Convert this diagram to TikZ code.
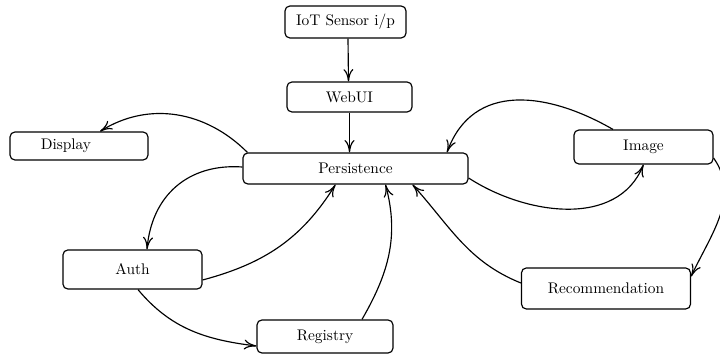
\documentclass[tikz,border=0pt]{standalone}
\usetikzlibrary{arrows.meta}
\begin{document}
\begin{tikzpicture}[
  x=0.65pt, y=0.65pt,
  box/.style={draw, rounded corners=3.2pt, line width=0.75pt, inner sep=0pt},
  link/.style={line width=0.75pt, -{To[length=8pt,width=6.5pt]}},
]
\useasboundingbox (0,0) rectangle (720,356);

% modules
\node[box, minimum width=78.7pt, minimum height=20.8pt]  (S)   at (345.5,334)   {IoT Sensor i/p};
\node[box, minimum width=81.3pt, minimum height=19.5pt]  (W)   at (349.5,259)   {WebUI};
\node[box, minimum width=146.3pt, minimum height=20.2pt] (P)   at (355.5,187.5) {Persistence};
\node[box, minimum width=89.7pt, minimum height=18.2pt]  (D)   at (79,210)      {Display\hspace*{17pt}};
\node[box, minimum width=90.4pt, minimum height=22.1pt]  (Im)  at (643.5,209)   {Image};
\node[box, minimum width=90.4pt, minimum height=25.4pt]  (A)   at (132.5,86.5)  {Auth};
\node[box, minimum width=88.4pt, minimum height=21.5pt]  (R)   at (325,19.5)    {Registry};
\node[box, minimum width=109.9pt, minimum height=26.7pt] (Rec) at (606,67.5)    {Recommendation};

% data flow
\draw[link] ([shift={(2.5,0)}]S.south) -- ([shift={(-1,0)}]W.north);
\draw[link] (W.south) -- (W.south |- P.north);
\draw[link] ([shift={(5,0)}]P.north west) to[out=135, in=32] ([shift={(21,0)}]D.north);
\draw[link] ([shift={(0,1.5)}]P.west) to[out=176, in=85, looseness=1.1] ([shift={(14.5,0)}]A.north);
\draw[link] ([shift={(0,-10.5)}]A.east) to[out=15, in=238] ([shift={(-20,0)}]P.south);
\draw[link] ([shift={(5.5,0)}]A.south) to[out=-50, in=173] ([shift={(0,-9.5)}]R.west);
\draw[link] ([shift={(37,0)}]R.north) to[out=60, in=-75] ([shift={(30,0)}]P.south);
\draw[link] ([shift={(0,5.5)}]Rec.west) to[out=158, in=-48] ([shift={(57,0)}]P.south);
\draw[link] ([shift={(0,-11)}]Im.east) to[out=-55, in=65] ([shift={(0,12)}]Rec.east);
\draw[link] ([shift={(-30.5,0)}]Im.north) to[out=150, in=70, looseness=1.15] ([shift={(91.5,0)}]P.north);
\draw[link] ([shift={(0,-9.5)}]P.east) to[out=-33, in=-112] (Im.south);
\end{tikzpicture}
\end{document}
